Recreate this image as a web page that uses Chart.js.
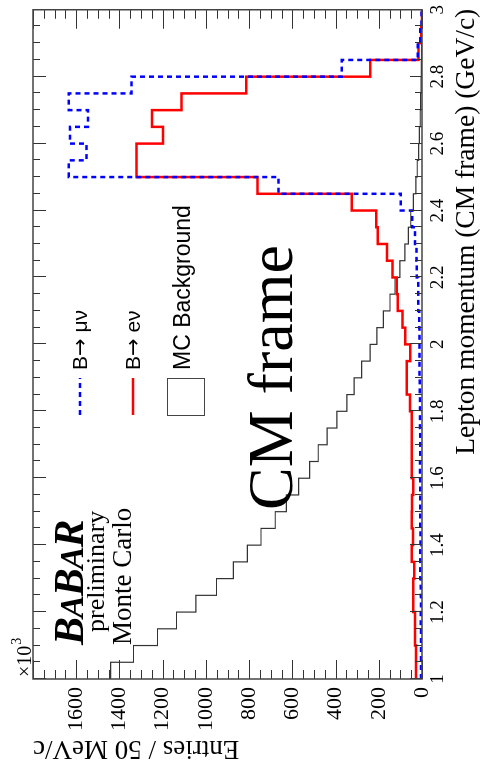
<!DOCTYPE html>
<html><head><meta charset="utf-8">
<script src="https://cdn.jsdelivr.net/npm/chart.js@4"></script>
<style>
html,body{margin:0;padding:0;background:#fff;overflow:hidden;}
#wrap{position:relative;width:481px;height:778px;overflow:hidden;background:#fff;}
#c{position:absolute;left:0;top:0;transform-origin:0 0;transform:translate(0px,778px) rotate(-90deg);}
</style></head><body>
<div id="wrap"><canvas id="c" width="778" height="481"></canvas></div>
<script>
// ---- data (lepton momentum bins, 50 MeV/c wide, low edges in GeV/c) ----
const binLowEdges = [1.00,1.05,1.10,1.15,1.20,1.25,1.30,1.35,1.40,1.45,
                     1.50,1.55,1.60,1.65,1.70,1.75,1.80,1.85,1.90,1.95,
                     2.00,2.05,2.10,2.15,2.20,2.25,2.30,2.35,2.40,2.45,
                     2.50,2.55,2.60,2.65,2.70,2.75,2.80,2.85,2.90,2.95];
const histUpperEdge = 3.00;
// entries (x10^3) per bin
const mcBackground = [1441,1335,1224,1136,1046,951,873,808,745,679,
                      628,571,520,480,439,394,348,314,279,240,
                      209,179,148,125,102,79,63,52,40,28,
                      22,16,12,8,6,4,3,2,1,0];
const bToENu = [28,28,32,32,40,40,36,48,42,48,
                46,40,48,48,48,48,55,71,71,54,
                77,90,112,117,136,162,205,212,325,761,
                1321,1321,1198,1249,1113,813,240,16,3,0];
const bToMuNu = [5,5,5,6,5,6,8,8,7,8,
                 8,8,9,8,8,9,9,10,12,12,
                 12,13,17,17,24,26,32,45,98,664,
                 1634,1552,1629,1546,1634,1344,371,20,8,2];
const seriesNames = ['B\u2192 \u03bc\u03bd', 'B\u2192 e\u03bd', 'MC Background'];
const momentumTickValues = [1,1.2,1.4,1.6,1.8,2,2.2,2.4,2.6,2.8,3];
const momentumTickLabels = ['1','1.2','1.4','1.6','1.8','2','2.2','2.4','2.6','2.8','3'];
const entriesTickValues = [0,200,400,600,800,1000,1200,1400,1600];
const entriesTickLabels = ['0','200','400','600','800','1000','1200','1400','1600'];
const momentumRange = [1, 3];
const entriesRange = [0, 1800];
const xTitle = 'Lepton momentum (CM frame) (GeV/c)';
const yTitle = 'Entries / 50 MeV/c';

function histPoints(vals){
  const pts = binLowEdges.map((x,i)=>({x:x, y:vals[i]}));
  pts.push({x:histUpperEdge, y:vals[vals.length-1]});
  return pts;
}

const SERIF = '"Liberation Serif","Times New Roman",serif';
const SANS = '"Liberation Sans",Arial,sans-serif';

function legendLabel(ctx, text, x, y, size){
  // draw "B", a full-size arrow, then the rest
  ctx.font = size+'px '+SANS;
  ctx.fillText(text[0], x, y);
  let cx = x + ctx.measureText(text[0]).width;
  ctx.font = size+'px "DejaVu Sans",'+SANS;
  ctx.fillText(text[1], cx, y);
  cx += ctx.measureText(text[1]).width;
  ctx.font = size+'px '+SANS;
  ctx.fillText(text.slice(2), cx, y);
}

const decorations = {
  id:'decorations',
  afterDraw(chart){
    const {ctx, chartArea:{left,right,top,bottom}, scales:{x,y}} = chart;
    ctx.save();
    // inward ticks
    ctx.strokeStyle = '#333'; ctx.lineWidth = 1;
    ctx.beginPath();
    for(let k=0;k<=40;k++){
      const v = momentumRange[0] + k*0.05;
      const px = Math.round(x.getPixelForValue(v))+0.5;
      const major = (k%4===0);
      ctx.moveTo(px,bottom); ctx.lineTo(px,bottom-(major?12:7));
      ctx.moveTo(px,top); ctx.lineTo(px,top+(major?13:7));
    }
    for(let k=0;k<=36;k++){
      const v = k*50;
      const py = Math.round(y.getPixelForValue(v))+0.5;
      const major = (k%4===0);
      ctx.moveTo(left,py); ctx.lineTo(left+(major?19:9),py);
      ctx.moveTo(right,py); ctx.lineTo(right-(major?19:9),py);
    }
    ctx.stroke();
    // frame
    ctx.strokeStyle = '#444'; ctx.lineWidth = 1.5;
    ctx.strokeRect(left,top,right-left,bottom-top);

    ctx.fillStyle = '#000';
    ctx.textBaseline = 'alphabetic';
    ctx.textAlign = 'left';

    // axis titles
    ctx.font = '27.5px '+SERIF;
    ctx.textAlign = 'right';
    ctx.fillText(xTitle, right+1, 474);
    ctx.save();
    ctx.translate(37, top);
    ctx.rotate(-Math.PI/2);
    ctx.font = '27px '+SERIF;
    const tw = ctx.measureText(yTitle).width;
    const fs = Math.min(27, 27*207/tw);
    ctx.font = fs.toFixed(2)+'px '+SERIF;
    ctx.textAlign = 'right';
    ctx.fillText(yTitle, 0, 0);
    ctx.restore();
    ctx.textAlign = 'left';

    // x10^3
    ctx.font = '20px '+SERIF;
    ctx.fillText('\u00d710', 101, 31);
    const w10 = ctx.measureText('\u00d710').width;
    ctx.font = '14px '+SERIF;
    ctx.fillText('3', 101+w10+1, 21);

    // BABAR logo
    let bx = 133;
    const letters = [['B',42],['A',34],['B',42],['A',34],['R',42]];
    for(const [ch,sz] of letters){
      ctx.font = 'italic bold '+sz+'px '+SERIF;
      ctx.fillText(ch, bx, 83);
      bx += ctx.measureText(ch).width - 1;
    }
    ctx.font = '26px '+SERIF;
    ctx.fillText('preliminary', 146, 104);
    ctx.font = '27px '+SERIF;
    ctx.fillText('Monte Carlo', 133, 131);

    // CM frame
    ctx.font = '64px '+SERIF;
    ctx.fillText('CM frame', 268, 292);

    // legend
    ctx.lineWidth = 2.5;
    ctx.strokeStyle = '#0000ff';
    ctx.setLineDash([5,4]);
    ctx.beginPath(); ctx.moveTo(363,80); ctx.lineTo(400,80); ctx.stroke();
    ctx.setLineDash([]);
    ctx.strokeStyle = '#ff0000';
    ctx.beginPath(); ctx.moveTo(363,133); ctx.lineTo(400,133); ctx.stroke();
    ctx.strokeStyle = '#444'; ctx.lineWidth = 1;
    ctx.strokeRect(362.5,167.5,37,37);
    legendLabel(ctx, seriesNames[0], 408, 87, 21);
    legendLabel(ctx, seriesNames[1], 408, 140, 21);
    ctx.font = '23px '+SANS;
    ctx.fillText(seriesNames[2], 408, 190);
    ctx.restore();
  }
};

new Chart(document.getElementById('c'), {
  type:'line',
  data:{
    datasets:[
      {label:seriesNames[0], data:histPoints(bToMuNu), stepped:'before', borderColor:'#0000ff', borderWidth:2.5, borderDash:[5,4], pointRadius:0, fill:false, order:0},
      {label:seriesNames[1], data:histPoints(bToENu), stepped:'before', borderColor:'#ff0000', borderWidth:2.5, pointRadius:0, fill:false, order:1},
      {label:seriesNames[2], data:histPoints(mcBackground), stepped:'before', borderColor:'#333333', borderWidth:1.2, pointRadius:0, fill:false, order:2}
    ]
  },
  options:{
    responsive:false, animation:false, devicePixelRatio:1,
    layout:{padding:{top:33,right:6,left:0,bottom:0}},
    plugins:{legend:{display:false}, tooltip:{enabled:false}},
    scales:{
      x:{type:'linear', position:'bottom', min:momentumRange[0], max:momentumRange[1],
         afterBuildTicks:(s)=>{ s.ticks = momentumTickValues.map(v=>({value:v})); },
         afterFit:(s)=>{ s.height = 59; },
         grid:{display:false, drawTicks:false}, border:{display:false},
         ticks:{autoSkip:false, maxRotation:0, minRotation:0, padding:5, color:'#000',
                font:{family:SERIF, size:19},
                callback:(v,i)=>momentumTickLabels[i]},
         title:{display:false}
      },
      y:{type:'linear', position:'left', min:entriesRange[0], max:entriesRange[1],
         afterBuildTicks:(s)=>{ s.ticks = entriesTickValues.map(v=>({value:v})); },
         afterFit:(s)=>{ s.width = 99; },
         grid:{display:false, drawTicks:false}, border:{display:false},
         ticks:{autoSkip:false, padding:8, color:'#000',
                font:{family:SERIF, size:22},
                callback:(v,i)=>entriesTickLabels[i]},
         title:{display:false}
      }
    }
  },
  plugins:[decorations]
});
</script>
</body></html>
